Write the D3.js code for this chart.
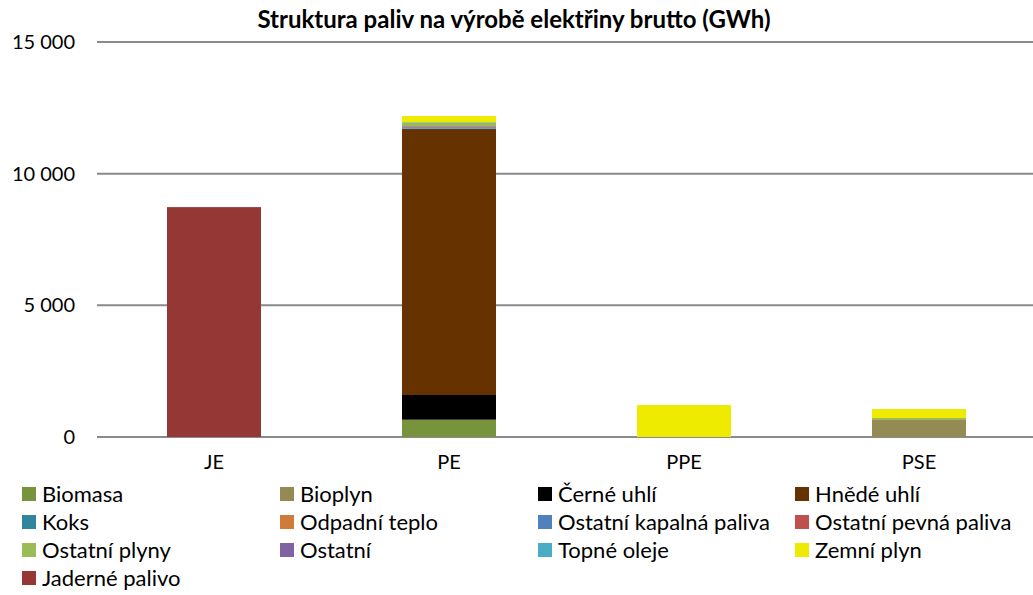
<!DOCTYPE html>
<html>
<head>
<meta charset="utf-8">
<script src="https://cdn.jsdelivr.net/npm/d3@7"></script>
<style>
  html, body { margin: 0; padding: 0; background: #fff; }
  svg { display: block; font-family: Lato, "Open Sans", sans-serif; }
</style>
</head>
<body>
<svg id="chart" width="1033" height="595"></svg>
<script>
// Production categories on the x axis
const categories = ["JE", "PE", "PPE", "PSE"];

// Fuel series, in stacking order (bottom to top)
const fuels = [
  "Biomasa", "Bioplyn", "Černé uhlí", "Hnědé uhlí",
  "Koks", "Odpadní teplo", "Ostatní kapalná paliva", "Ostatní pevná paliva",
  "Ostatní plyny", "Ostatní", "Topné oleje", "Zemní plyn",
  "Jaderné palivo"
];

// GWh per category (JE, PE, PPE, PSE)
const biomasa        = [0, 657, 0, 0];
const bioplyn        = [0, 0, 0, 645];
const cerneUhli      = [0, 938, 0, 0];
const hnedeUhli      = [0, 10100, 0, 0];
const koks           = [0, 15, 0, 0];
const odpadniTeplo   = [0, 0, 0, 0];
const ostKapalna     = [0, 55, 0, 0];
const ostPevna       = [0, 35, 0, 0];
const ostPlyny       = [0, 150, 0, 76];
const ostatni        = [0, 0, 0, 0];
const topneOleje     = [0, 10, 0, 0];
const zemniPlyn      = [0, 230, 1215, 342];
const jadernePalivo  = [8730, 0, 0, 0];

const seriesValues = [
  biomasa, bioplyn, cerneUhli, hnedeUhli, koks, odpadniTeplo,
  ostKapalna, ostPevna, ostPlyny, ostatni, topneOleje, zemniPlyn, jadernePalivo
];

const colors = [
  "#77933C", "#948A54", "#000000", "#663300",
  "#31859C", "#D07B38", "#4F81BD", "#C0504D",
  "#9BBB59", "#8064A2", "#4BACC6", "#EEEA00",
  "#953735"
];

const yTicks = [0, 5000, 10000, 15000];
const title = "Struktura paliv na výrobě elektřiny brutto (GWh)";

// Build a table for the stack layout
const table = categories.map((c, i) => {
  const row = { category: c };
  fuels.forEach((f, j) => { row[f] = seriesValues[j][i]; });
  return row;
});

const svg = d3.select("#chart");

const x = d3.scaleBand()
  .domain(categories)
  .range([96.5, 1036.5])
  .paddingInner(0.6)
  .paddingOuter(0.3);

const y = d3.scaleLinear()
  .domain([0, 15000])
  .range([437, 42]);

const fmt = v => d3.format(",")(v).replace(/,/g, " ");

// Gridlines
svg.append("g")
  .selectAll("line")
  .data(yTicks)
  .join("line")
  .attr("x1", 97).attr("x2", 1033)
  .attr("y1", d => y(d)).attr("y2", d => y(d))
  .attr("stroke", "#8a8a8a")
  .attr("stroke-width", 2);

// Y axis labels
const yAxis = d3.axisLeft(y).tickValues(yTicks).tickFormat(fmt).tickSize(0).tickPadding(0);
svg.append("g")
  .attr("transform", "translate(75,0)")
  .call(yAxis)
  .call(g => g.select(".domain").remove())
  .call(g => g.selectAll("text")
    .attr("fill", "#000")
    .style("font-family", "Lato, sans-serif")
    .style("font-size", "20px"));

// Stacked bars
const stack = d3.stack().keys(fuels);
const layers = stack(table);

svg.append("g")
  .selectAll("g")
  .data(layers)
  .join("g")
  .attr("fill", (d, i) => colors[i])
  .selectAll("rect")
  .data(d => d)
  .join("rect")
  .attr("x", d => x(d.data.category))
  .attr("width", x.bandwidth())
  .attr("y", d => y(d[1]))
  .attr("height", d => Math.max(0, y(d[0]) - y(d[1])));

// Category axis labels
const xAxis = d3.axisBottom(x).tickSize(0).tickPadding(0);
svg.append("g")
  .attr("transform", "translate(0,455)")
  .call(xAxis)
  .call(g => g.select(".domain").remove())
  .call(g => g.selectAll("text")
    .attr("fill", "#000")
    .style("font-family", "Lato, sans-serif")
    .style("font-size", "20px"));

// Title
svg.append("text")
  .attr("x", 514)
  .attr("y", 28)
  .attr("text-anchor", "middle")
  .style("font-weight", "bold")
  .style("font-size", "24px")
  .text(title);

// Legend: four columns, row-major
const colX = [22, 280, 538, 795];
const rowY = [494, 522, 550, 578];
const legend = svg.append("g")
  .selectAll("g")
  .data(fuels)
  .join("g")
  .attr("transform", (d, i) => `translate(${colX[i % 4]},${rowY[Math.floor(i / 4)]})`);

legend.append("rect")
  .attr("x", 0).attr("y", -7)
  .attr("width", 14).attr("height", 14)
  .attr("fill", (d, i) => colors[i]);

legend.append("text")
  .attr("x", 20)
  .attr("y", 0)
  .attr("dy", "0.35em")
  .style("font-size", "22px")
  .text(d => d);
</script>
</body>
</html>
